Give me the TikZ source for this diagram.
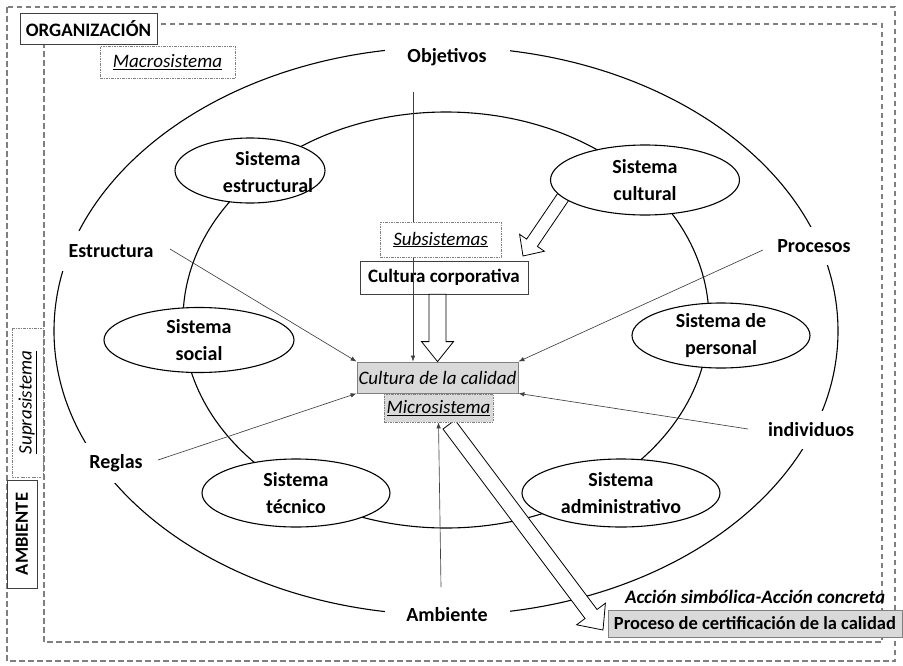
\documentclass[tikz,border=0pt]{standalone}
\usepackage{fontspec}
\setmainfont{Carlito}
\usetikzlibrary{arrows.meta,calc,shapes.geometric}
\definecolor{framegray}{HTML}{7F7F7F}
\definecolor{boxgray}{HTML}{D9D9D9}
\definecolor{linegray}{HTML}{404040}
\newcommand{\myblockarrow}[5]{%
  \coordinate (ba-c) at ($(#2)!#5!(#1)$);
  \draw[hollow] ($(#1)!#3!90:(#2)$) -- ($(ba-c)!#3!-90:(#1)$) -- ($(ba-c)!#4!-90:(#1)$) -- (#2) -- ($(ba-c)!#4!90:(#1)$) -- ($(ba-c)!#3!90:(#1)$) -- ($(#1)!#3!-90:(#2)$) -- cycle;}
\newcommand{\myul}[1]{\underline{#1}}
\begin{document}
\begin{tikzpicture}[x=1pt,y=-1pt,
  dframe/.style={draw=framegray, line width=1.6pt, dash pattern=on 5.5pt off 3.5pt},
  dashdot/.style={draw=gray, line width=0.6pt, dash pattern=on 2.5pt off 1.2pt on 0.6pt off 1.2pt},
  ell/.style={draw=black, line width=1.1pt},
  sysell/.style={ellipse, draw=black, line width=1.1pt, fill=white, inner sep=0pt, align=center, font=\fontsize{20}{27}\selectfont\bfseries},
  systxt/.style={inner sep=0pt, align=center, font=\fontsize{20}{27}\selectfont\bfseries},
  lbl/.style={fill=white, inner sep=0pt, font=\fontsize{20}{23}\selectfont\bfseries},
  ptr/.style={draw=linegray, line width=0.65pt, -{Latex[length=6pt,width=4.5pt]}},
  hollow/.style={draw=black, line width=0.8pt, fill=white, line join=miter},
  rectbox/.style={inner sep=0pt, fill=white},
  itl/.style={font=\fontsize{19}{23}\selectfont\itshape},
]
\useasboundingbox (0,0) rectangle (903,665);
% frames
\draw[dframe] (7,7) rectangle (895,661);
\draw[dframe] (44,24) rectangle (882,642);
% big ellipses
\draw[ell] (446,331) ellipse [x radius=392pt, y radius=284pt];
\draw[ell] (446,320) ellipse [x radius=263pt, y radius=208pt];
% arrow from cultural system
\coordinate (cultail) at (574,181);
\coordinate (cultip) at (523,256);
\myblockarrow{cultail}{cultip}{6.5pt}{15pt}{16pt}
% subsystems
\node[sysell, minimum width=150pt, minimum height=65pt] (sest) at (250,170.5) {};
\node[systxt] (sestt) at (268,172) {Sistema\\estructural};
\node[sysell, minimum width=189pt, minimum height=70pt] (scul) at (645,180) {Sistema\\cultural};
\node[sysell, minimum width=190pt, minimum height=65pt] (ssoc) at (199,340) {Sistema\\social};
\node[sysell, minimum width=178pt, minimum height=65pt] (sper) at (721,335.5) {Sistema de\\personal};
\node[sysell, minimum width=188pt, minimum height=68pt] (stec) at (296,493) {Sistema\\técnico};
\node[sysell, minimum width=198pt, minimum height=68pt] (sadm) at (621,493) {Sistema\\administrativo};
% labels on the outer ellipse
\node[lbl, minimum width=125pt, minimum height=30pt] (obj) at (447,57) {Objetivos};
\node[lbl, minimum width=100pt, minimum height=40pt] (estr) at (111,251) {Estructura};
\node[lbl, minimum width=82pt, minimum height=38pt] (procl) at (814,246) {Procesos};
\node[lbl, minimum width=90pt, minimum height=38pt] (indiv) at (811,430) {individuos};
\node[lbl, minimum width=62pt, minimum height=40pt] (reglas) at (116,463) {Reglas};
\node[lbl, minimum width=125pt, minimum height=30pt] (ambl) at (447,615) {Ambiente};
% big arrow to certification
\coordinate (bigtail) at (449,424.5);
\coordinate (bigtip) at (603,630);
\myblockarrow{bigtail}{bigtip}{7.5pt}{18pt}{20pt}
% boxes
\node[rectbox, draw=linegray, line width=0.6pt, minimum width=168pt, minimum height=33pt, font=\fontsize{19}{23}\selectfont\bfseries] (cc) at (444,277.5) {Cultura corporativa};
\node[rectbox, fill=boxgray, draw=gray, line width=0.8pt, minimum width=161pt, minimum height=31pt, itl] (cq) at (437.5,377.5) {Cultura de la calidad};
\node[rectbox, fill=boxgray, dashdot, minimum width=109pt, minimum height=28pt, itl] (micro) at (438.5,408) {\myul{Microsistema}};
\node[rectbox, fill=boxgray, draw=gray, line width=0.8pt, minimum width=294pt, minimum height=27pt, font=\fontsize{18.5}{23}\selectfont\bfseries] (proc) at (755,623.5) {Proceso de certificación de la calidad};
\node[inner sep=0pt, font=\fontsize{19}{23}\selectfont\bfseries\itshape] (accion) at (755,597) {Acción simbólica-Acción concreta};
\node[rectbox, draw=linegray, line width=0.8pt, minimum width=137pt, minimum height=31pt, font=\fontsize{19}{22}\selectfont\bfseries] (org) at (88.5,28.5) {ORGANIZACIÓN};
\node[rectbox, dashdot, minimum width=135pt, minimum height=32pt, itl] (macro) at (167.5,62) {\myul{Macrosistema}};
\node[rectbox, dashdot, rotate=90, minimum width=149pt, minimum height=31pt, itl] (supra) at (27.5,402.5) {\myul{Suprasistema}};
\node[rectbox, draw=linegray, line width=0.8pt, rotate=90, minimum width=108pt, minimum height=30pt, font=\fontsize{18.5}{22}\selectfont\bfseries] (amb) at (22,534) {AMBIENTE};
% thin pointers
\coordinate (objs) at (413,92);
\coordinate (estrs) at (170,249);
\coordinate (procs) at (763,250);
\coordinate (regs) at (158,460);
\coordinate (indivs) at (748,429);
\coordinate (ambs) at (441,587);
\draw[ptr] (objs) -- (objs |- cq.north);
\draw[ptr] (estrs) -- (cq.north west);
\draw[ptr] (procs) -- (cq.north east);
\draw[ptr] (regs) -- (cq.south west);
\draw[ptr] (indivs) -- (cq.south east);
\draw[ptr] (ambs) -- (micro.south);
% subsystems label
\node[rectbox, dashdot, minimum width=121pt, minimum height=35pt, itl] (sub) at (440.5,239.5) {\myul{Subsistemas}};
% arrow corporate culture -> quality culture
\coordinate (vtail) at (cq.north |- cc.south);
\myblockarrow{vtail}{cq.north}{8.5pt}{16pt}{20pt}
\end{tikzpicture}
\end{document}
